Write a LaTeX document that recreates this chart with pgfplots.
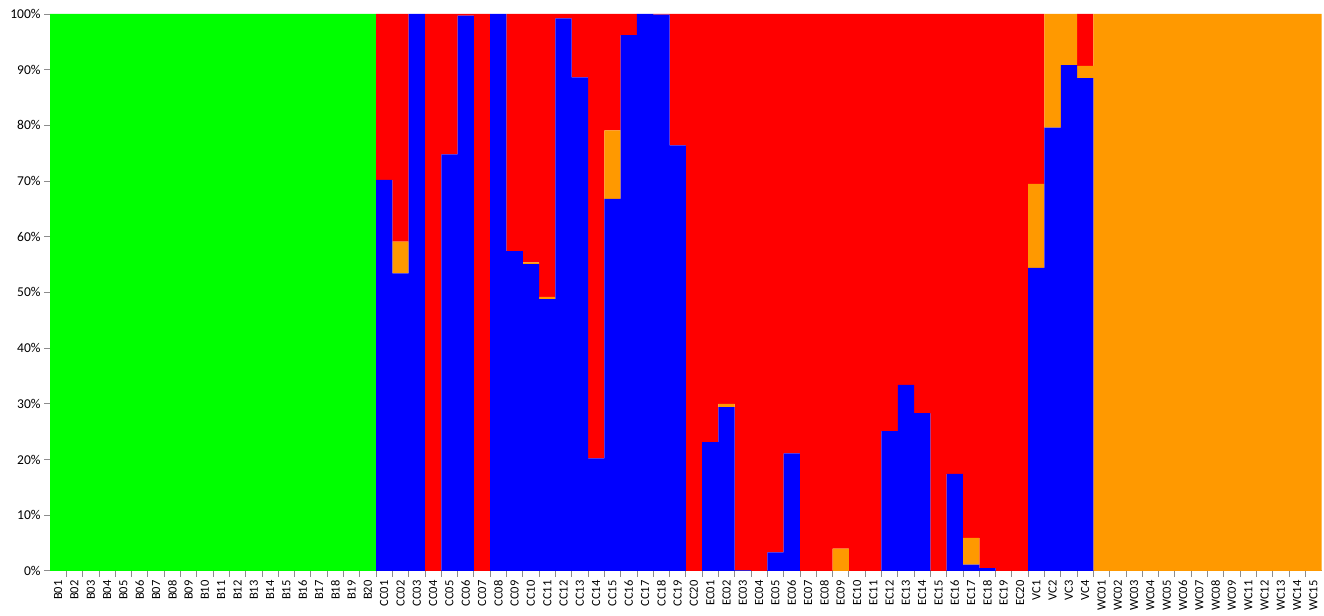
\documentclass[border=0pt]{standalone}
\usepackage{fontspec}
\setmainfont{Carlito}
\usepackage{pgfplots}
\usepackage{pgfplotstable}
\pgfplotsset{compat=1.18}
\definecolor{cgreen}{HTML}{00FF00}
\definecolor{cblue}{HTML}{0000FF}
\definecolor{cred}{HTML}{FF0000}
\definecolor{corange}{HTML}{FF9900}
\definecolor{axgray}{HTML}{8C8C8C}
% membership proportions per sample (%): blue, orange, red, green
\pgfplotstableread{
x  lab   blue  orange  red   green
0  B01   0     0       0     100
1  B02   0     0       0     100
2  B03   0     0       0     100
3  B04   0     0       0     100
4  B05   0     0       0     100
5  B06   0     0       0     100
6  B07   0     0       0     100
7  B08   0     0       0     100
8  B09   0     0       0     100
9  B10   0     0       0     100
10 B11   0     0       0     100
11 B12   0     0       0     100
12 B13   0     0       0     100
13 B14   0     0       0     100
14 B15   0     0       0     100
15 B16   0     0       0     100
16 B17   0     0       0     100
17 B18   0     0       0     100
18 B19   0     0       0     100
19 B20   0     0       0     100
20 CC01  70.2  0       29.8  0
21 CC02  53.4  5.7     40.9  0
22 CC03  100   0       0     0
23 CC04  0     0       100   0
24 CC05  74.8  0       25.2  0
25 CC06  99.7  0       0.3   0
26 CC07  0     0       100   0
27 CC08  100   0       0     0
28 CC09  57.4  0       42.6  0
29 CC10  55.1  0.3     44.6  0
30 CC11  48.8  0.4     50.8  0
31 CC12  99.2  0       0.8   0
32 CC13  88.6  0       11.4  0
33 CC14  20.2  0       79.8  0
34 CC15  66.8  12.3    20.9  0
35 CC16  96.2  0       3.8   0
36 CC17  100   0       0     0
37 CC18  99.9  0       0.1   0
38 CC19  76.4  0       23.6  0
39 CC20  0     0       100   0
40 EC01  23.1  0       76.9  0
41 EC02  29.4  0.6     70.0  0
42 EC03  0.1   0       99.9  0
43 EC04  0     0       100   0
44 EC05  3.3   0       96.7  0
45 EC06  21.1  0       78.9  0
46 EC07  0     0       100   0
47 EC08  0     0       100   0
48 EC09  0     4.0     96.0  0
49 EC10  0     0       100   0
50 EC11  0     0       100   0
51 EC12  25.1  0       74.9  0
52 EC13  33.4  0       66.6  0
53 EC14  28.3  0       71.7  0
54 EC15  0     0       100   0
55 EC16  17.4  0       82.6  0
56 EC17  1.1   4.8     94.1  0
57 EC18  0.5   0       99.5  0
58 EC19  0     0       100   0
59 EC20  0     0       100   0
60 VC1   54.4  15.1    30.5  0
61 VC2   79.6  20.4    0     0
62 VC3   90.8  9.2     0     0
63 VC4   88.5  2.2     9.3   0
64 WC01  0     100     0     0
65 WC02  0     100     0     0
66 WC03  0     100     0     0
67 WC04  0     100     0     0
68 WC05  0     100     0     0
69 WC06  0     100     0     0
70 WC07  0     100     0     0
71 WC08  0     100     0     0
72 WC09  0     100     0     0
73 WC11  0     100     0     0
74 WC12  0     100     0     0
75 WC13  0     100     0     0
76 WC14  0     100     0     0
77 WC15  0     100     0     0
}\data
\begin{document}
\begin{tikzpicture}
\begin{axis}[
  scale only axis,
  width=1272pt, height=557pt,
  ybar stacked,
  bar width=1,
  xmin=-0.5, xmax=77.5,
  ymin=0, ymax=100,
  axis lines*=left,
  axis line style={axgray, line width=0.8pt},
  xtick={0,...,77},
  xticklabels from table={\data}{lab},
  major x tick style={draw=none},
  minor x tick num=1,
  minor x tick style={axgray, line width=0.8pt},
  minor tick length=6pt,
  ytick={0,10,...,100},
  yticklabels={0\%,10\%,20\%,30\%,40\%,50\%,60\%,70\%,80\%,90\%,100\%},
  major y tick style={axgray, line width=0.8pt},
  major tick length=6pt,
  tick align=outside,
  x tick label style={rotate=90, anchor=east, font=\fontsize{12.5}{14}\selectfont},
  y tick label style={font=\fontsize{13.5}{15}\selectfont},
  every axis plot/.append style={draw=none},
  clip=false,
]
\addplot[fill=cblue] table[x=x, y=blue] {\data};
\addplot[fill=corange] table[x=x, y=orange] {\data};
\addplot[fill=cred] table[x=x, y=red] {\data};
\addplot[fill=cgreen] table[x=x, y=green] {\data};
\end{axis}
% a little white room round the chart, as in the reference
\path ([shift={(-7pt,6pt)}]current bounding box.north west)
      ([shift={(2pt,-2pt)}]current bounding box.south east);
\end{tikzpicture}
\end{document}
